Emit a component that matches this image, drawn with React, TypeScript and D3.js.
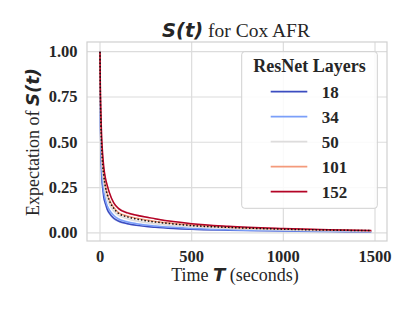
import React from "react";
import * as d3 from "d3";

const times = [0, 2, 5, 10, 15, 20, 30, 40, 50, 75, 100, 150, 200, 300, 400, 500, 700, 1000, 1250, 1480];
const layers = ["18", "34", "50", "101", "152"];
const colors = ["#3b4cc0", "#7b9ff9", "#dddcdc", "#f49a7b", "#b40426"];
const s18 = [1, 0.65, 0.46, 0.3, 0.245, 0.2, 0.16, 0.128, 0.11, 0.08, 0.065, 0.05, 0.041, 0.031, 0.024, 0.019, 0.014, 0.01, 0.007, 0.006];
const s34 = [1, 0.68, 0.5, 0.34, 0.275, 0.23, 0.18, 0.148, 0.128, 0.095, 0.077, 0.06, 0.05, 0.038, 0.03, 0.024, 0.017, 0.012, 0.009, 0.007];
const s50 = [1, 0.72, 0.55, 0.4, 0.33, 0.28, 0.22, 0.185, 0.16, 0.12, 0.097, 0.078, 0.065, 0.05, 0.04, 0.033, 0.024, 0.016, 0.012, 0.01];
const s101 = [1, 0.76, 0.61, 0.46, 0.38, 0.33, 0.26, 0.215, 0.185, 0.14, 0.112, 0.092, 0.08, 0.063, 0.052, 0.043, 0.031, 0.021, 0.016, 0.012];
const s152 = [1, 0.8, 0.66, 0.51, 0.43, 0.37, 0.3, 0.26, 0.225, 0.165, 0.135, 0.11, 0.097, 0.078, 0.062, 0.05, 0.036, 0.024, 0.017, 0.013];
const sMean = [1, 0.76, 0.6, 0.45, 0.37, 0.32, 0.25, 0.21, 0.18, 0.135, 0.108, 0.088, 0.076, 0.06, 0.049, 0.04, 0.03, 0.02, 0.015, 0.012];
const spread = [0, 0.03, 0.03, 0.025, 0.02, 0.018, 0.015, 0.012, 0.01, 0.008, 0.007, 0.006, 0.005, 0.004, 0.003, 0.003, 0.002, 0.002, 0.002, 0.002];
const xTicks = [0, 500, 1000, 1500];
const yTicks = [0, 0.25, 0.5, 0.75, 1.0];

const series = [s18, s34, s50, s101, s152];
const serif = "'Liberation Serif', 'Times New Roman', serif";
const sans = "'DejaVu Sans', sans-serif";

export default function App() {
  const W = 415, H = 311;
  const L = 87, R = 387, T = 42, B = 241;
  const x = d3.scaleLinear().domain([0, 1500]).range([100, 375]);
  const y = d3.scaleLinear().domain([0, 1]).range([232.8, 51.7]);
  const line = d3.line<number>().x((_, i) => x(times[i])).y((d) => y(d)).curve(d3.curveMonotoneX);
  const area = d3
    .area<number>()
    .x((_, i) => x(times[i]))
    .y0((d, i) => y(Math.max(0, d - spread[i])))
    .y1((d, i) => y(Math.min(1, d + spread[i])))
    .curve(d3.curveMonotoneX);

  const legY = [91.7, 116.7, 141.7, 166.7, 191.7];

  return (
    <svg width={W} height={H} style={{ position: "absolute", left: 0, top: 0 }}>
      <rect x={0} y={0} width={W} height={H} fill="#fff" />
      {xTicks.map((t) => (
        <line key={"gx" + t} x1={x(t)} x2={x(t)} y1={T} y2={B} stroke="#dcdcdc" strokeWidth={1.2} />
      ))}
      {yTicks.map((t) => (
        <line key={"gy" + t} x1={L} x2={R} y1={y(t)} y2={y(t)} stroke="#dcdcdc" strokeWidth={1.2} />
      ))}
      <rect x={L} y={T} width={R - L} height={B - T} fill="none" stroke="#d0d0d0" strokeWidth={1.2} />
      {series.map((s, k) => (
        <path key={"a" + k} d={area(s) || ""} fill={colors[k]} opacity={0.25} />
      ))}
      {series.map((s, k) => (
        <path key={"l" + k} d={line(s) || ""} fill="none" stroke={colors[k]} strokeWidth={1.5} />
      ))}
      <path d={line(sMean) || ""} fill="none" stroke="#111" strokeWidth={1.5} strokeDasharray="1.5,2" />
      {xTicks.map((t) => (
        <text key={"tx" + t} x={x(t)} y={262} textAnchor="middle" fontFamily={serif} fontWeight="bold" fontSize={16.5} fill="#262626">
          {t}
        </text>
      ))}
      {yTicks.map((t) => (
        <text key={"ty" + t} x={77.5} y={y(t) + 5.5} textAnchor="end" fontFamily={serif} fontWeight="bold" fontSize={16.5} fill="#262626">
          {t.toFixed(2)}
        </text>
      ))}
      <text x={235} y={281} textAnchor="middle" fontFamily={serif} fontSize={18} fill="#262626">
        Time <tspan fontFamily={sans} fontWeight="bold" fontStyle="italic">T</tspan> (seconds)
      </text>
      <text transform="translate(39,142) rotate(-90)" textAnchor="middle" fontFamily={serif} fontSize={18} fill="#262626">
        Expectation of <tspan fontFamily={sans} fontWeight="bold" fontStyle="italic">S(t)</tspan>
      </text>
      <text x={236} y={36.5} textAnchor="middle" fontFamily={serif} fontSize={19.5} fill="#262626">
        <tspan fontFamily={sans} fontWeight="bold" fontStyle="italic">S(t)</tspan> for Cox AFR
      </text>
      <rect x={241.7} y={51.7} width={135.6} height={156.6} rx={3} fill="#fff" fillOpacity={0.85} stroke="#d0d0d0" strokeWidth={1} />
      <text x={309.5} y={72} textAnchor="middle" fontFamily={serif} fontWeight="bold" fontSize={18} fill="#262626">
        ResNet Layers
      </text>
      {layers.map((l, k) => (
        <g key={"lg" + l}>
          <line x1={270.7} x2={307.3} y1={legY[k]} y2={legY[k]} stroke={colors[k]} strokeWidth={1.8} />
          <text x={321.7} y={legY[k] + 5.8} fontFamily={serif} fontWeight="bold" fontSize={17} fill="#262626">
            {l}
          </text>
        </g>
      ))}
    </svg>
  );
}
